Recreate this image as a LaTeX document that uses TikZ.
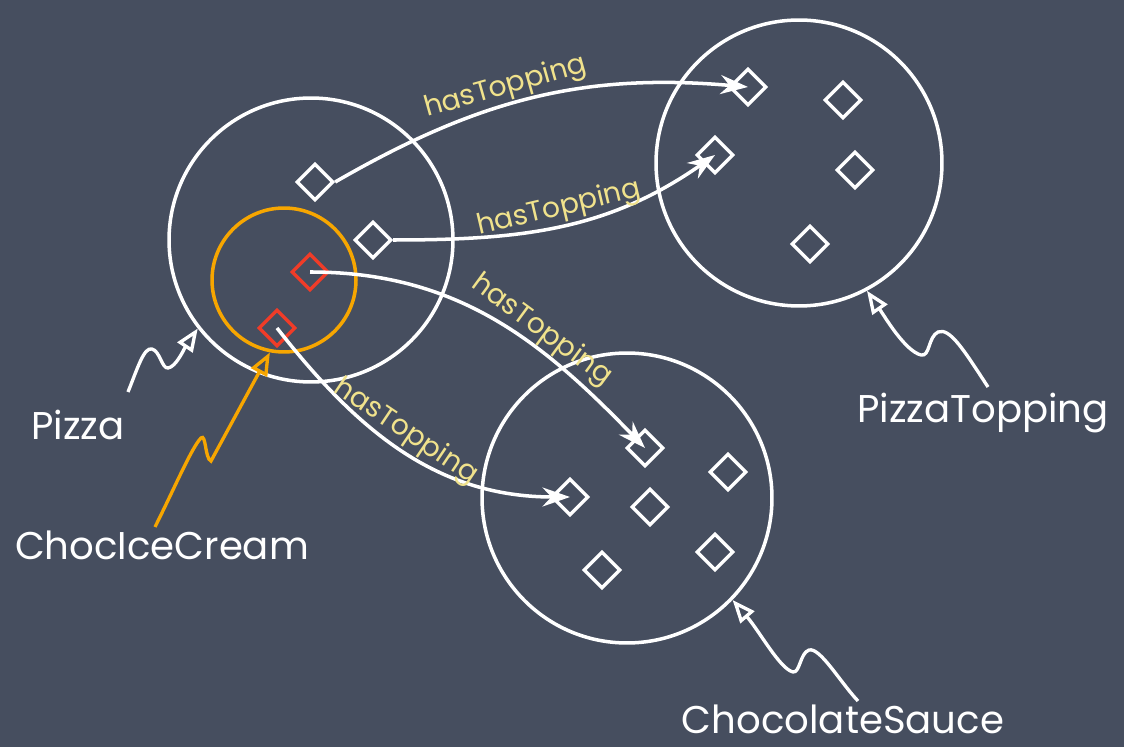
\documentclass[tikz,border=0pt]{standalone}
\usepackage{fontspec}
\setmainfont{Poppins}
\usetikzlibrary{shapes.geometric, arrows.meta, positioning}
\definecolor{board}{RGB}{70,78,95}
\definecolor{chalkyellow}{RGB}{240,226,140}
\definecolor{chalkorange}{RGB}{247,166,0}
\definecolor{chalkred}{RGB}{240,60,40}
\tikzset{
    class/.style={circle, draw=white, line width=2pt, inner sep=0pt},
    member/.style={diamond, draw=white, line width=1.9pt, inner sep=0pt, minimum size=0.74cm},
    arrow/.style={white, line width=2pt, -{Stealth[length=0.55cm, width=0.38cm]}},
    pointer/.style={white, line width=1.9pt, -{Triangle[open, length=0.46cm, width=0.36cm]}},
    rel/.style={text=chalkyellow, font=\fontsize{16}{18}\selectfont, sloped, above, inner sep=0.5pt},
    classname/.style={text=white, font=\fontsize{22}{25}\selectfont}
}

\begin{document}
\begin{tikzpicture}[x=0.02cm, y=0.02cm]
    \fill[board] (0,0) rectangle (1124,747);
    \useasboundingbox (0,0) rectangle (1124,747);

    % the classes
    \node (pizza) [class, minimum size=5.68cm] at (311,507) {};
    \node (icecream) [class, draw=chalkorange, minimum size=2.88cm] at (284,467) {};
    \node (topping) [class, minimum size=5.72cm] at (799,584) {};
    \node (sauce) [class, minimum size=5.8cm] at (627,249) {};

    % individuals
    \node (p1) [member] at (315,565) {};
    \node (p2) [member] at (373,507) {};
    \node (r1) [member, draw=chalkred] at (310,475) {};
    \node (r2) [member, draw=chalkred] at (277,419) {};
    \node (t1) [member] at (748,660) {};
    \node (t2) [member] at (843,647) {};
    \node (t3) [member] at (715,592) {};
    \node (t4) [member] at (855,577) {};
    \node (t5) [member] at (810,503) {};
    \node (s1) [member] at (645,299) {};
    \node (s2) [member] at (728,275) {};
    \node (s3) [member] at (570,250) {};
    \node (s4) [member] at (650,240) {};
    \node (s5) [member] at (602,177) {};
    \node (s6) [member] at (715,195) {};

    % hasTopping links
    \draw [arrow] (p1.east) to[out=30, in=175] node[rel, pos=0.44] (ht1) {hasTopping} (t1.center);
    \draw [arrow] (p2.east) to[out=0, in=215] node[rel, pos=0.5] (ht2) {hasTopping} (t3.center);
    \draw [arrow] (r1.center) to[out=0, in=134] node[rel, pos=0.62] (ht3) {hasTopping} (s1.center);
    \draw [arrow] (r2.center) to[out=-52, in=180] node[rel, pos=0.47] (ht4) {hasTopping} (s3.center);

    % class names
    \node (pizzalbl) [classname] at (78,322) {Pizza};
    \node (icelbl) [classname] at (162,202) {ChocIceCream};
    \node (toplbl) [classname] at (983,334) {PizzaTopping};
    \node (saucelbl) [classname] at (843,28) {ChocolateSauce};

    \coordinate (pizzafoot) at (128,355);
    \coordinate (icefoot) at (155,220);
    \coordinate (topfoot) at (988,360);
    \coordinate (saucefoot) at (858,46);

    \draw [pointer] (pizzafoot) .. controls (138,380) and (144,400) .. (152,398)
        .. controls (160,396) and (162,378) .. (168,379)
        .. controls (176,380) and (184,398) .. (pizza.218);
    \draw [pointer, chalkorange] (icefoot) .. controls (175,260) and (192,300) .. (201,309)
        .. controls (206,314) and (205,288) .. (211,286)
        -- (icecream.259);
    \draw [pointer] (topfoot) .. controls (965,395) and (950,420) .. (938,415)
        .. controls (928,410) and (930,390) .. (921,392)
        .. controls (905,396) and (885,430) .. (topping.298);
    \draw [pointer] (saucefoot) .. controls (840,65) and (820,100) .. (809,97)
        .. controls (800,94) and (800,74) .. (793,75)
        .. controls (780,78) and (760,115) .. (sauce.316);
\end{tikzpicture}
\end{document}
